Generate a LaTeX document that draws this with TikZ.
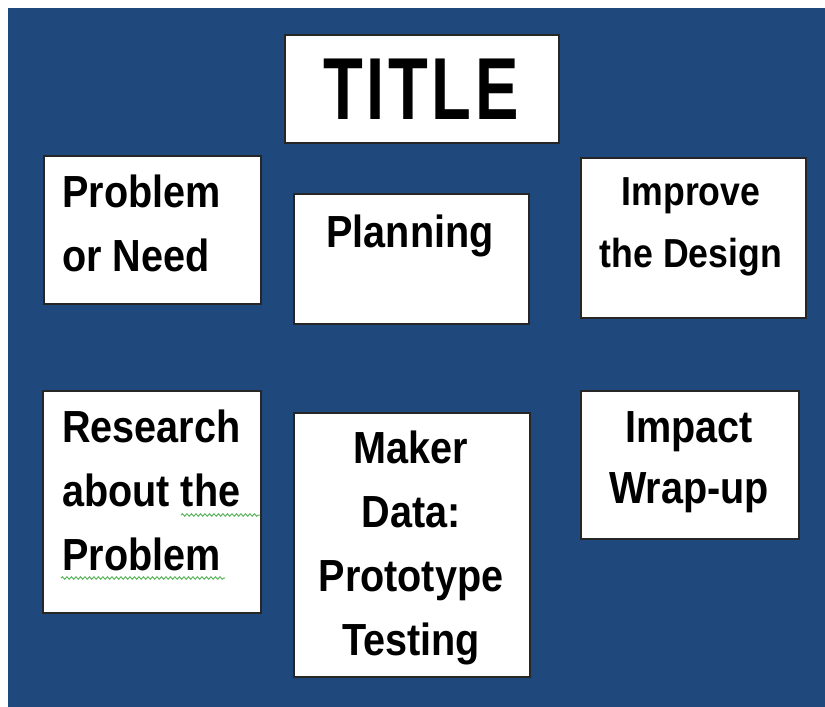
\documentclass[tikz,border=0pt]{standalone}
\usepackage{fontspec}
\usetikzlibrary{decorations.pathmorphing}
\newfontfamily\boxfont[FakeStretch=0.88]{Liberation Sans}
\newfontfamily\titlefont[FakeStretch=0.74,LetterSpace=4]{Liberation Sans}
\definecolor{bgblue}{RGB}{31,73,125}
\definecolor{squiggreen}{RGB}{90,180,90}
\tikzset{
  card/.style={draw=black!85, line width=1.3bp, fill=white, inner sep=0pt, rectangle},
  lbl/.style={inner sep=0pt, text=black, font=\boxfont\bfseries\fontsize{45bp}{45bp}\selectfont},
  lblsmall/.style={inner sep=0pt, text=black, font=\boxfont\bfseries\fontsize{40.5bp}{40.5bp}\selectfont},
  titlelbl/.style={inner sep=0pt, text=black, font=\titlefont\bfseries\fontsize{88bp}{88bp}\selectfont},
  squig/.style={draw=squiggreen, line width=1bp, decorate, decoration={snake, amplitude=1.2bp, segment length=4.5bp}}
}
\begin{document}
\begin{tikzpicture}[x=1bp, y=-1bp]
\useasboundingbox (0,0) rectangle (825,707);
\fill[bgblue] (8,8) rectangle (825,707);

% boxes
\node[card, minimum width=274bp, minimum height=108bp] (title) at (422,89) {};
\node[card, minimum width=217bp, minimum height=148bp] (prob) at (152.5,230) {};
\node[card, minimum width=235bp, minimum height=130bp] (plan) at (411.5,259) {};
\node[card, minimum width=225bp, minimum height=160bp] (impr) at (693.5,238) {};
\node[card, minimum width=218bp, minimum height=222bp] (res) at (152,502) {};
\node[card, minimum width=236bp, minimum height=264bp] (maker) at (412,545) {};
\node[card, minimum width=218bp, minimum height=148bp] (imp) at (690,465) {};

% texts
\node[titlelbl, anchor=base] (titletxt) at (421,120) {TITLE};

\node[lbl, anchor=base west] (prob1) at (62,207) {Problem};
\node[lbl, anchor=base west] (prob2) at (62,271) {or Need};

\node[lbl, anchor=base] (plan1) at (410,247) {Planning};

\node[lblsmall, anchor=base] (impr1) at (691,205) {Improve};
\node[lblsmall, anchor=base] (impr2) at (691,267) {the Design};

\node[lbl, anchor=base west] (res1) at (62,442) {Research};
\node[lbl, anchor=base west] (res2) at (62,506) {about the};
\node[lbl, anchor=base west] (res3) at (62,570) {Problem};

\node[lbl, anchor=base] (mk1) at (411,463) {Maker};
\node[lbl, anchor=base] (mk2) at (411,527) {Data:};
\node[lbl, anchor=base] (mk3) at (411,591) {Prototype};
\node[lbl, anchor=base] (mk4) at (411,655) {Testing};

\node[lbl, anchor=base] (imp1) at (689,442) {Impact};
\node[lbl, anchor=base] (imp2) at (689,503) {Wrap-up};

% spell-check squiggles
\coordinate (sqa1) at (181,515);
\coordinate (sqa2) at (260,515);
\coordinate (sqb1) at (61,578);
\coordinate (sqb2) at (225,578);
\draw[squig] (sqa1) -- (sqa2);
\draw[squig] (sqb1) -- (sqb2);
\end{tikzpicture}
\end{document}
